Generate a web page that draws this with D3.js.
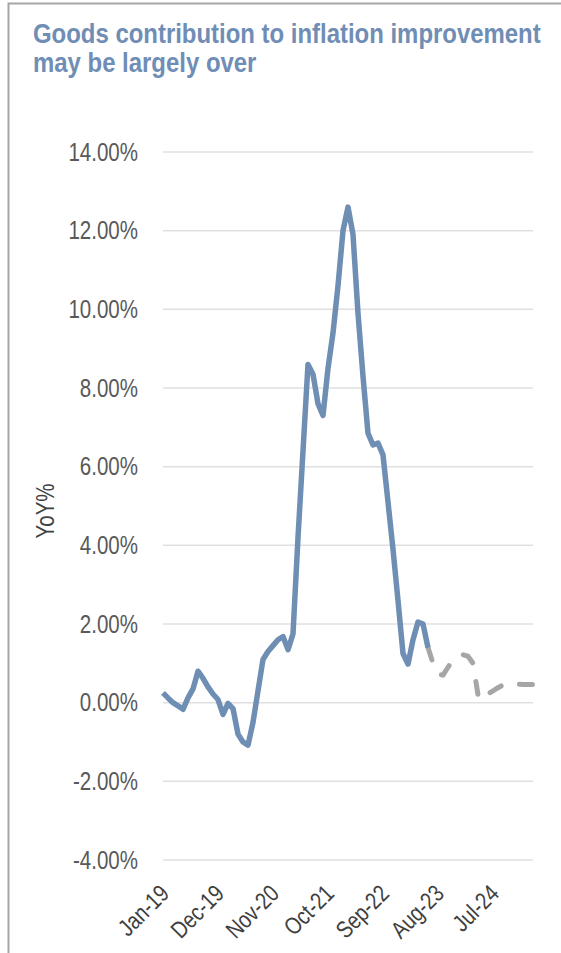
<!DOCTYPE html>
<html>
<head>
<meta charset="utf-8">
<script src="https://cdn.jsdelivr.net/npm/d3@7"></script>
<style>
  html, body { margin: 0; padding: 0; background: #ffffff; }
  svg { display: block; }
  text { font-family: 'Liberation Sans', Arial, sans-serif; }
</style>
</head>
<body>
<div id="chart"></div>
<script>
// ---------- data ----------
const months = [
  "Jan-19","Feb-19","Mar-19","Apr-19","May-19","Jun-19","Jul-19","Aug-19","Sep-19","Oct-19","Nov-19","Dec-19",
  "Jan-20","Feb-20","Mar-20","Apr-20","May-20","Jun-20","Jul-20","Aug-20","Sep-20","Oct-20","Nov-20","Dec-20",
  "Jan-21","Feb-21","Mar-21","Apr-21","May-21","Jun-21","Jul-21","Aug-21","Sep-21","Oct-21","Nov-21","Dec-21",
  "Jan-22","Feb-22","Mar-22","Apr-22","May-22","Jun-22","Jul-22","Aug-22","Sep-22","Oct-22","Nov-22","Dec-22",
  "Jan-23","Feb-23","Mar-23","Apr-23","May-23","Jun-23","Jul-23","Aug-23","Sep-23","Oct-23","Nov-23","Dec-23",
  "Jan-24","Feb-24","Mar-24","Apr-24","May-24","Jun-24","Jul-24","Aug-24","Sep-24","Oct-24","Nov-24","Dec-24",
  "Jan-25","Feb-25","Mar-25"
];

// Actual goods YoY % (Jan-19 .. Jun-23)
const actualValues = [
  0.25, 0.12, 0.00, -0.08, -0.17, 0.12, 0.35, 0.80, 0.62, 0.40, 0.22, 0.08,
  -0.30, -0.02, -0.15, -0.80, -1.00, -1.08, -0.50, 0.30, 1.10, 1.30, 1.45, 1.60,
  1.68, 1.35, 1.75, 4.20, 6.40, 8.60, 8.35, 7.60, 7.30, 8.50, 9.40, 10.60,
  12.00, 12.60, 11.90, 9.90, 8.30, 6.85, 6.55, 6.60, 6.30, 5.10, 3.90, 2.60,
  1.25, 0.98, 1.60, 2.05, 2.00, 1.40
];

// Projection (Jun-23 .. Mar-25)
const forecastStart = "Jun-23";
const forecastValues = [
  1.40, 1.00, 0.72, 0.70, 0.90, 1.10, 1.20, 1.22, 1.18, 1.00, 0.20,
  0.05, 0.22, 0.30, 0.38, 0.45, 0.50, 0.49, 0.47, 0.46, 0.46, 0.46
];

const yTicks = [14, 12, 10, 8, 6, 4, 2, 0, -2, -4];
const xTickLabels = ["Jan-19","Dec-19","Nov-20","Oct-21","Sep-22","Aug-23","Jul-24"];

const titleLines = ["Goods contribution to inflation improvement", "may be largely over"];
const yAxisTitle = "YoY%";

// ---------- layout ----------
const W = 561, H = 953;
const plot = { left: 163, right: 533, top: 152, bottom: 860 };
const NARROW = 0.82; // emulate a condensed (Arial Narrow-like) face

function condense(sel, factor) {
  sel.each(function () {
    const len = this.getComputedTextLength();
    d3.select(this)
      .attr("textLength", len * factor)
      .attr("lengthAdjust", "spacingAndGlyphs");
  });
}

const svg = d3.select("#chart").append("svg")
  .attr("width", W).attr("height", H);

// outer border (left and top)
svg.append("path")
  .attr("d", `M8.5,${H} L8.5,3.5 L${W},3.5`)
  .attr("fill", "none")
  .attr("stroke", "#a6a6a6")
  .attr("stroke-width", 2);

// title (horizontally condensed through a scale transform)
const titleG = svg.append("g");
const titleTexts = titleG.selectAll("text").data(titleLines).join("text")
  .attr("x", 0)
  .attr("y", (d, i) => 43 + i * 29.5)
  .attr("fill", "#6f8db5")
  .attr("font-weight", "bold")
  .attr("font-size", 27)
  .text(d => d);
{
  const first = titleTexts.nodes()[0].getComputedTextLength();
  const f = 508 / first;
  titleG.attr("transform", `translate(33,0) scale(${f},1)`);
}

// scales
const x = d3.scalePoint().domain(months).range([plot.left, plot.right]);
const y = d3.scaleLinear().domain([-4, 14]).range([plot.bottom, plot.top]);

// gridlines
svg.append("g").selectAll("line").data(yTicks).join("line")
  .attr("x1", plot.left).attr("x2", plot.right)
  .attr("y1", d => y(d)).attr("y2", d => y(d))
  .attr("stroke", "#e0e0e0")
  .attr("stroke-width", 1.5);

// y axis (labels only)
const yAxis = d3.axisLeft(y)
  .tickValues(yTicks)
  .tickFormat(d => d.toFixed(2) + "%")
  .tickSize(0)
  .tickPadding(0);
const yg = svg.append("g").attr("transform", `translate(${plot.left - 25},0)`).call(yAxis);
yg.select(".domain").remove();
yg.selectAll("text")
  .attr("fill", "#595959")
  .attr("font-size", 25)
  .attr("font-family", null);
condense(yg.selectAll("text"), NARROW);

// y axis title
const yt = svg.append("text")
  .attr("transform", `translate(54,511) rotate(-90)`)
  .attr("text-anchor", "middle")
  .attr("fill", "#404040")
  .attr("font-size", 25)
  .text(yAxisTitle);
condense(yt, NARROW);

// x axis (labels only)
const xAxis = d3.axisBottom(x).tickValues(xTickLabels).tickSize(0).tickPadding(0);
const xg = svg.append("g").attr("transform", `translate(0,${plot.bottom})`).call(xAxis);
xg.select(".domain").remove();
xg.selectAll("text")
  .attr("fill", "#404040")
  .attr("font-size", 24)
  .attr("font-family", null)
  .attr("text-anchor", "end")
  .attr("dy", null)
  .attr("y", null)
  .attr("transform", "translate(7,35) rotate(-45)");
condense(xg.selectAll("text"), NARROW);

// lines
const actualData = actualValues.map((v, i) => ({ m: months[i], v }));
const fIdx = months.indexOf(forecastStart);
const forecastData = forecastValues.map((v, i) => ({ m: months[fIdx + i], v }));

const line = d3.line().x(d => x(d.m)).y(d => y(d.v));

svg.append("path")
  .datum(forecastData)
  .attr("d", line)
  .attr("fill", "none")
  .attr("stroke", "#a6a6a6")
  .attr("stroke-width", 5)
  .attr("stroke-linecap", "round")
  .attr("stroke-linejoin", "round")
  .attr("stroke-dasharray", "13,19");

svg.append("path")
  .datum(actualData)
  .attr("d", line)
  .attr("fill", "none")
  .attr("stroke", "#6f8eb4")
  .attr("stroke-width", 5.5)
  .attr("stroke-linecap", "butt")
  .attr("stroke-linejoin", "round");
</script>
</body>
</html>
